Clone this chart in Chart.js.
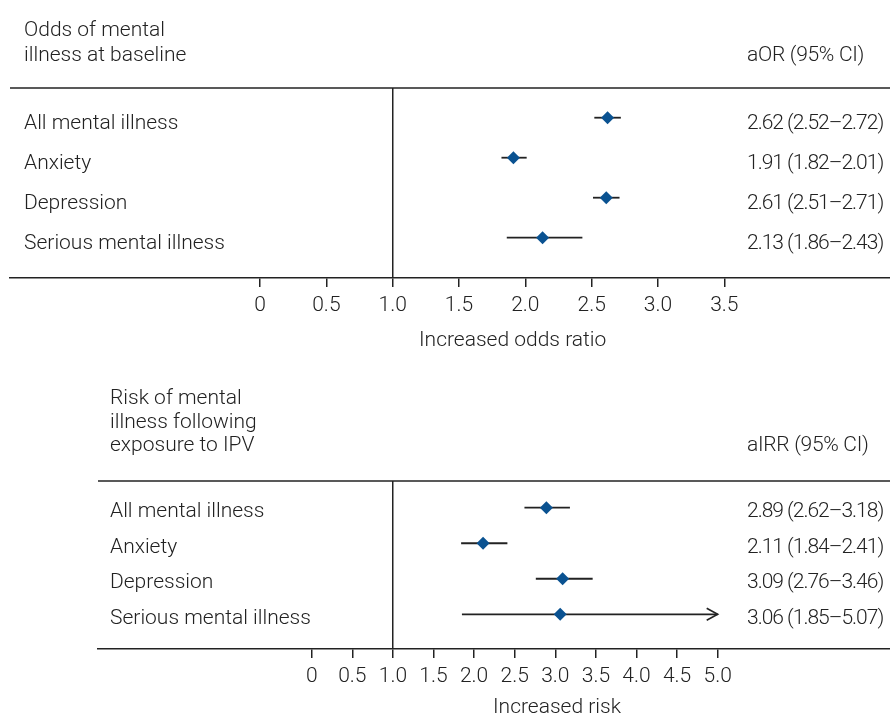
<!DOCTYPE html>
<html><head><meta charset="utf-8">
<script src="https://cdn.jsdelivr.net/npm/chart.js@4"></script>
<style>
html,body{margin:0;padding:0;background:#fff;}
#wrap{position:relative;width:890px;height:715px;overflow:hidden;}
canvas{position:absolute;left:0;}
#c1{top:0;}
#c2{top:360px;}
</style></head><body>
<div id="wrap"><canvas id="c1" width="890" height="360"></canvas><canvas id="c2" width="890" height="355"></canvas></div>
<script>
// ---- data ----
const categories = ['All mental illness', 'Anxiety', 'Depression', 'Serious mental illness'];

const baselineTitle = ['Odds of mental', 'illness at baseline'];
const baselineHeader = 'aOR (95% CI)';
const baselineAxisTitle = 'Increased odds ratio';
const baselineOR = [2.62, 1.91, 2.61, 2.13];
const baselineLo = [2.52, 1.82, 2.51, 1.86];
const baselineHi = [2.72, 2.01, 2.71, 2.43];
const baselineTicks = [0, 0.5, 1.0, 1.5, 2.0, 2.5, 3.0, 3.5];

const riskTitle = ['Risk of mental', 'illness following', 'exposure to IPV'];
const riskHeader = 'aIRR (95% CI)';
const riskAxisTitle = 'Increased risk';
const riskRR = [2.89, 2.11, 3.09, 3.06];
const riskLo = [2.62, 1.84, 2.76, 1.85];
const riskHi = [3.18, 2.41, 3.46, 5.07];
const riskTicks = [0, 0.5, 1.0, 1.5, 2.0, 2.5, 3.0, 3.5, 4.0, 4.5, 5.0];
const riskAxisCap = 5.0;

// ---- styling ----
const INK = '#222';
const MARK = '#0a5291';
const FONT_FAMILY = 'Roboto, "Liberation Sans", sans-serif';
const FONT_SIZE = 21;
const FONT_WEIGHT = '300';

Chart.defaults.font.family = FONT_FAMILY;
Chart.defaults.font.size = FONT_SIZE;
Chart.defaults.font.weight = FONT_WEIGHT;
Chart.defaults.color = INK;

function ci(e, l, h) { return e.toFixed(2) + ' (' + l.toFixed(2) + '\u2013' + h.toFixed(2) + ')'; }

function makeForest(canvasId, p) {
  const n = categories.length;
  const bars = categories.map((c, i) => ({
    type: 'scatter',
    showLine: true,
    data: [{ x: p.lo[i], y: i }, { x: Math.min(p.hi[i], p.cap), y: i }],
    borderColor: INK,
    borderWidth: 1.8,
    pointRadius: 0,
    order: 2
  }));
  const points = {
    type: 'scatter',
    data: p.est.map((v, i) => ({ x: v, y: i })),
    pointStyle: 'rectRot',
    pointRadius: 6.5,
    pointHoverRadius: 6.5,
    backgroundColor: MARK,
    borderColor: MARK,
    borderWidth: 0,
    order: 0
  };
  const textPlugin = {
    id: 'forestText',
    afterDraw(chart) {
      const ctx = chart.ctx, ca = chart.chartArea;
      const xs = chart.scales.x, ys = chart.scales.y;
      ctx.save();
      // frame line on top
      ctx.strokeStyle = INK; ctx.lineWidth = 1.5;
      ctx.beginPath(); ctx.moveTo(ca.left, ca.top); ctx.lineTo(ca.right, ca.top); ctx.stroke();
      // arrows for truncated intervals
      for (let i = 0; i < n; i++) {
        if (p.hi[i] > p.cap) {
          const tx = xs.getPixelForValue(p.cap), ty = ys.getPixelForValue(i);
          ctx.lineWidth = 1.6;
          ctx.beginPath();
          ctx.moveTo(tx - 11, ty - 6); ctx.lineTo(tx, ty); ctx.lineTo(tx - 11, ty + 6);
          ctx.stroke();
        }
      }
      ctx.font = FONT_WEIGHT + ' ' + FONT_SIZE + 'px ' + FONT_FAMILY;
      ctx.fillStyle = INK;
      ctx.textBaseline = 'alphabetic';
      ctx.textAlign = 'left';
      p.title.forEach((t, i) => ctx.fillText(t, p.labelX, p.titleBase + i * p.lineH));
      categories.forEach((c, i) => {
        const py = ys.getPixelForValue(i) + p.textDy;
        ctx.fillText(c, p.labelX, py);
      });
      ctx.fillText(p.axisTitle, p.axisTitleX, p.axisTitleBase);
      // right-hand column: narrower figures
      ctx.letterSpacing = '-0.3px';
      ctx.fillText(p.header, p.valueX, p.titleBase + (p.title.length - 1) * p.lineH);
      ctx.letterSpacing = '-1px';
      categories.forEach((c, i) => {
        const py = ys.getPixelForValue(i) + p.textDy;
        ctx.fillText(ci(p.est[i], p.lo[i], p.hi[i]), p.valueX, py);
      });
      ctx.letterSpacing = '0px';
      ctx.restore();
    }
  };
  return new Chart(document.getElementById(canvasId), {
    type: 'scatter',
    data: { datasets: [...bars, points] },
    options: {
      responsive: false,
      animation: false,
      devicePixelRatio: 1,
      layout: { autoPadding: false, padding: { left: p.padLeft, right: 0, top: p.padTop, bottom: 0 } },
      plugins: { legend: { display: false }, tooltip: { enabled: false } },
      scales: {
        x: {
          type: 'linear',
          min: p.xmin, max: p.xmax,
          afterBuildTicks: s => { s.ticks = p.ticks.map(v => ({ value: v })); },
          afterFit: s => { s.height = p.axisH; },
          ticks: {
            padding: 6,
            color: INK,
            autoSkip: false,
            maxRotation: 0,
            callback: v => (v === 0 ? '0' : Number(v).toFixed(1))
          },
          grid: {
            drawOnChartArea: true,
            color: c => (c.tick && c.tick.value === 1 ? INK : 'rgba(0,0,0,0)'),
            tickColor: INK,
            tickLength: 9,
            lineWidth: 1.5
          },
          border: { display: true, color: INK, width: 1.5 }
        },
        y: {
          type: 'linear', reverse: true, display: false,
          min: p.ymin, max: p.ymax
        }
      }
    },
    plugins: [textPlugin]
  });
}

makeForest('c1', {
  est: baselineOR, lo: baselineLo, hi: baselineHi, ticks: baselineTicks, cap: Infinity,
  title: baselineTitle, header: baselineHeader, axisTitle: baselineAxisTitle,
  xmin: -1.885, xmax: 4.749, ymin: -0.7425, ymax: 4.0075,
  padLeft: 10, padTop: 88, axisH: 82,
  labelX: 24, valueX: 747, titleBase: 36, lineH: 24.5, textDy: 11,
  axisTitleX: 419, axisTitleBase: 346
});

makeForest('c2', {
  est: riskRR, lo: riskLo, hi: riskHi, ticks: riskTicks, cap: riskAxisCap,
  title: riskTitle, header: riskHeader, axisTitle: riskAxisTitle,
  xmin: -2.632, xmax: 7.122, ymin: -0.7515, ymax: 3.977,
  padLeft: 98, padTop: 121, axisH: 66,
  labelX: 110, valueX: 747, titleBase: 44, lineH: 23.5, textDy: 9.5,
  axisTitleX: 493, axisTitleBase: 353
});
</script>
</body></html>
